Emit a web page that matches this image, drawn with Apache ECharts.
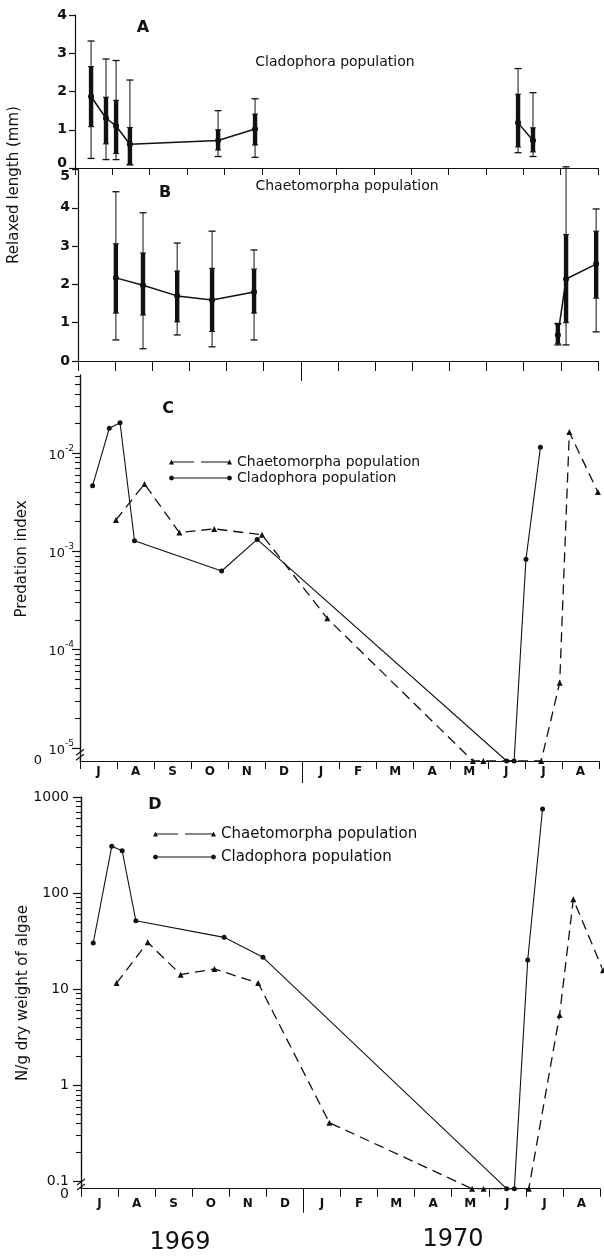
<!DOCTYPE html>
<html><head><meta charset="utf-8">
<script src="https://cdn.jsdelivr.net/npm/echarts@6/dist/echarts.min.js"></script>
<style>html,body{margin:0;padding:0;background:#fff}#c{width:604px;height:1258px}</style>
</head><body><div id="c"></div>
<script>
// ---------- data (x = months since 1 July 1969) ----------
const months = ['J','A','S','O','N','D','J','F','M','A','M','J','J','A'];

// Panel A: Cladophora population, relaxed length (mm)
const aX    = [0.43, 0.83, 1.10, 1.47, 3.83, 4.82, 11.86, 12.26];
const aMean = [1.87, 1.30, 1.10, 0.62, 0.72, 1.02, 1.18, 0.72];
const aSdLo = [1.08, 0.63, 0.38, 0.10, 0.47, 0.60, 0.55, 0.42];
const aSdHi = [2.65, 1.85, 1.77, 1.06, 1.00, 1.41, 1.93, 1.05];
const aRgLo = [0.25, 0.22, 0.22, 0.08, 0.30, 0.28, 0.40, 0.30];
const aRgHi = [3.32, 2.85, 2.81, 2.30, 1.50, 1.81, 2.60, 1.97];
const aSeg  = [0, 0, 0, 0, 0, 0, 1, 1];

// Panel B: Chaetomorpha population, relaxed length (mm)
const bX    = [1.02, 1.75, 2.67, 3.61, 4.74, 12.92, 13.14, 13.95];
const bMean = [2.17, 1.98, 1.70, 1.59, 1.80, 0.68, 2.14, 2.53];
const bSdLo = [1.25, 1.20, 1.02, 0.77, 1.25, 0.45, 1.00, 1.64];
const bSdHi = [3.06, 2.82, 2.35, 2.42, 2.40, 0.95, 3.30, 3.39];
const bRgLo = [0.55, 0.32, 0.68, 0.37, 0.55, 0.42, 0.42, 0.76];
const bRgHi = [4.42, 3.87, 3.08, 3.39, 2.90, 0.98, 5.07, 3.97];
const bSeg  = [0, 0, 0, 0, 0, 1, 1, 1];

// Panel C: predation index
const cCladX = [0.34, 0.79, 1.08, 1.47, 3.82, 4.78, 11.51, 11.71, 12.03, 12.42];
const cCladY = [4.65e-3, 1.78e-2, 2.03e-2, 1.28e-3, 6.3e-4, 1.32e-3, 0, 0, 8.3e-4, 1.14e-2];
const cChaeX = [0.97, 1.74, 2.68, 3.62, 4.91, 6.67, 10.60, 10.88, 12.44, 12.94, 13.20, 13.97];
const cChaeY = [2.08e-3, 4.84e-3, 1.55e-3, 1.69e-3, 1.47e-3, 2.08e-4, 0, 0, 0, 4.6e-5, 1.63e-2, 4.0e-3];

// Panel D: N/g dry weight of algae
const dCladX = [0.33, 0.83, 1.11, 1.48, 3.86, 4.91, 11.48, 11.69, 12.05, 12.45];
const dCladY = [30.3, 307, 276, 51.7, 34.7, 21.5, 0, 0, 20.2, 750];
const dChaeX = [0.96, 1.80, 2.69, 3.60, 4.78, 6.70, 10.55, 10.86, 12.08, 12.91, 13.28, 14.08];
const dChaeY = [11.6, 30.8, 14.2, 16.3, 11.6, 0.41, 0, 0, 0, 5.4, 86.3, 15.8];

// tick labels
const cLogTicks = [-5, -4, -3, -2];
const dLogTicks = [-1, 0, 1, 2, 3];
const dLogLabels = ['0.1', '1', '10', '100', '1000'];
const years = ['1969', '1970'];

// ---------- chart ----------
const FONT = 'DejaVu Sans';
const INK = '#111';
const ZC = -5.133, MAXC = -1.207;   // log10 level standing for 0, top of panel C
const ZD = -1.074, MAXD = 3;        // same for panel D
const lg = (v, z) => v > 0 ? Math.log10(v) : z;

function minorTicks(n0, n1, max) {
  const out = [];
  for (let n = n0; n <= n1; n++) for (let k = 2; k <= 9; k++) {
    const v = n + Math.log10(k); if (v <= max + 1e-9) out.push(v);
  }
  return out;
}

const grids = [
  {left: 75, top: 15, width: 523, height: 153},
  {left: 78, top: 169.5, width: 520, height: 191.5},
  {left: 80, top: 375, width: 519, height: 386},
  {left: 81, top: 797, width: 519, height: 391.7}
];

function catAxis(g, showLabel, tickLen, margin) {
  return {type: 'category', gridIndex: g, position: 'bottom', data: months, boundaryGap: true,
    axisLine: {show: true, onZero: false, lineStyle: {color: INK, width: 1.2}},
    axisTick: {show: true, interval: 0, length: tickLen, lineStyle: {color: INK, width: 1}},
    axisLabel: {show: showLabel, interval: 0, margin: margin, color: INK, fontFamily: FONT, fontSize: 12, fontWeight: 'bold'},
    splitLine: {show: false}};
}
function valXAxis(g, longTick) {
  return {type: 'value', gridIndex: g, position: 'bottom', min: 0, max: 14,
    axisLine: {show: false, onZero: false}, axisLabel: {show: false}, splitLine: {show: false},
    axisTick: longTick ? {show: true, customValues: [6], length: longTick, lineStyle: {color: INK, width: 1}} : {show: false}};
}
function linY(g, max, fmt, rich) {
  return {type: 'value', gridIndex: g, position: 'left', min: 0, max: max, interval: 1,
    axisLine: {show: true, onZero: false, lineStyle: {color: INK, width: 1.2}},
    axisTick: {show: true, length: 6, lineStyle: {color: INK, width: 1.2}},
    axisLabel: {color: INK, fontFamily: FONT, fontSize: 14, fontWeight: 'bold', margin: 8,
      showMinLabel: true, showMaxLabel: true, formatter: fmt, rich: rich},
    splitLine: {show: false}};
}
// log axis (log10 units): line, decade labels and minor ticks at 2..9
function logY(g, min, max, tickVals, labelVals, fmt, margin, rich) {
  return {type: 'value', gridIndex: g, position: 'left', min: min, max: max,
    axisLine: {show: true, onZero: false, lineStyle: {color: INK, width: 1.2}}, splitLine: {show: false},
    axisTick: {show: true, customValues: tickVals, length: 5, lineStyle: {color: INK, width: 1.1}},
    axisLabel: {customValues: labelVals, showMinLabel: true, showMaxLabel: true, hideOverlap: false,
      margin: margin, color: INK, fontFamily: FONT, fontSize: 14, formatter: fmt, rich: rich}};
}
// companion axis: long ticks at whole decades + the "0" label
function majorY(g, min, max, vals, zero, margin, rich) {
  return {type: 'value', gridIndex: g, position: 'left', min: min, max: max,
    axisLine: {show: true, onZero: false, lineStyle: {color: INK, width: 1.2}},
    splitLine: {show: false},
    axisLabel: {customValues: [zero], showMinLabel: true, margin: margin, color: INK, fontFamily: FONT, fontSize: 14,
      formatter: () => '{z|0}', rich: rich},
    axisTick: {show: true, customValues: vals, length: 8, lineStyle: {color: INK, width: 1.2}}};
}

function errSeries(xi, yi, X, M, sl, sh, rl, rh) {
  return {type: 'custom', xAxisIndex: xi, yAxisIndex: yi, clip: false, z: 3, silent: true,
    data: X.map((x, i) => [x, M[i], sl[i], sh[i], rl[i], rh[i]]),
    encode: {x: 0, y: [1, 2, 3, 4, 5]},
    renderItem: (p, api) => {
      const x = api.value(0);
      const top = api.coord([x, api.value(5)]), bot = api.coord([x, api.value(4)]);
      const st = api.coord([x, api.value(3)]), sb = api.coord([x, api.value(2)]);
      const cx = top[0], c = 3.5;
      const ls = {stroke: INK, lineWidth: 1};
      return {type: 'group', children: [
        {type: 'line', shape: {x1: cx, y1: top[1], x2: cx, y2: bot[1]}, style: ls},
        {type: 'line', shape: {x1: cx - c, y1: top[1], x2: cx + c, y2: top[1]}, style: {stroke: INK, lineWidth: 1.3}},
        {type: 'line', shape: {x1: cx - c, y1: bot[1], x2: cx + c, y2: bot[1]}, style: {stroke: INK, lineWidth: 1.3}},
        {type: 'rect', shape: {x: cx - 2.2, y: st[1], width: 4.4, height: sb[1] - st[1]}, style: {fill: INK}},
        {type: 'line', shape: {x1: cx - 3, y1: st[1], x2: cx + 3, y2: st[1]}, style: ls},
        {type: 'line', shape: {x1: cx - 3, y1: sb[1], x2: cx + 3, y2: sb[1]}, style: ls}
      ]};
    }};
}
function meanLines(xi, yi, X, M, seg) {
  const groups = {};
  X.forEach((x, i) => { (groups[seg[i]] = groups[seg[i]] || []).push([x, M[i]]); });
  return Object.keys(groups).map(k => ({type: 'line', xAxisIndex: xi, yAxisIndex: yi, data: groups[k],
    symbol: 'circle', symbolSize: 6, clip: false, z: 4, silent: true,
    itemStyle: {color: INK}, lineStyle: {color: INK, width: 1.5}}));
}
function popLine(name, xi, yi, X, Y, z, dashed) {
  return {type: 'line', name: name, xAxisIndex: xi, yAxisIndex: yi, clip: false, silent: true,
    data: X.map((x, i) => [x, lg(Y[i], z)]),
    symbol: dashed ? 'triangle' : 'circle', symbolSize: dashed ? 6 : 5,
    itemStyle: {color: INK}, color: INK,
    lineStyle: {color: INK, width: dashed ? 1.3 : 1.1, type: dashed ? [10, 6] : 'solid'}};
}

const oct = (cx, cy, r) => { let s = ''; for (let i = 0; i < 8; i++) { const a = i * Math.PI / 4;
  s += (i ? 'L' : 'M') + (cx + r * Math.cos(a)).toFixed(2) + ',' + (cy + r * Math.sin(a)).toFixed(2); } return s + 'Z'; };
const iconChae = 'path://M0,5L2.5,0L5,5Z M3,2H25V3H3Z M32,2H60V3H32Z M58,5L60.5,0L63,5Z';
const iconClad = 'path://' + oct(2.5, 2.5, 2.5) + ' M2.5,2H60.5V3H2.5Z ' + oct(60.5, 2.5, 2.5);

const CHAE = 'Chaetomorpha population', CLAD = 'Cladophora population';
function legendAt(left, top, fs, gap) {
  return {orient: 'vertical', left: left, top: top, itemWidth: 63, itemHeight: 5, itemGap: gap,
    selectedMode: false, itemStyle: {borderWidth: 0},
    textStyle: {color: INK, fontFamily: FONT, fontSize: fs, lineHeight: 16},
    data: [{name: CHAE, icon: iconChae}, {name: CLAD, icon: iconClad}]};
}

const chart = echarts.init(document.getElementById('c'));
const richC = {
  b: {fontFamily: FONT, fontSize: 13, color: INK, lineHeight: 18, verticalAlign: 'bottom'},
  s: {fontFamily: FONT, fontSize: 9, color: INK, lineHeight: 18, verticalAlign: 'top'}
};

chart.setOption({
  backgroundColor: '#fff',
  animation: false,
  grid: grids,
  legend: [legendAt(164, 449, 14, 0), legendAt(148, 821, 15, 7)],
  xAxis: [
    catAxis(0, false, 7, 4), valXAxis(0, 0),
    catAxis(1, false, 10, 4), valXAxis(1, 20),
    catAxis(2, true, 8, 5), valXAxis(2, 22),
    catAxis(3, true, 8, 9), valXAxis(3, 24)
  ],
  yAxis: [
    linY(0, 4, v => v === 0 ? '{u|0}' : String(v),
      {u: {fontFamily: FONT, fontSize: 14, fontWeight: 'bold', color: INK, padding: [0, 0, 9, 0]}}),
    linY(1, 5, v => v === 5 ? '{d|5}' : String(v),
      {d: {fontFamily: FONT, fontSize: 14, fontWeight: 'bold', color: INK, padding: [14, 0, 0, 0]}}),
    logY(2, ZC, MAXC, minorTicks(-5, -2, MAXC), cLogTicks,
      v => '{b|10}{s|-' + Math.abs(Math.round(v)) + '}', 6, richC),
    majorY(2, ZC, MAXC, cLogTicks, ZC, 38, {z: {fontFamily: FONT, fontSize: 13, color: INK}}),
    logY(3, ZD, MAXD, minorTicks(-1, 2, MAXD), dLogTicks,
      v => dLogLabels[dLogTicks.indexOf(Math.round(v))], 12, {}),
    majorY(3, ZD, MAXD, dLogTicks, ZD, 12, {z: {fontFamily: FONT, fontSize: 14, color: INK, padding: [12, 0, 0, 0]}})
  ],
  series: [].concat(
    errSeries(1, 0, aX, aMean, aSdLo, aSdHi, aRgLo, aRgHi),
    meanLines(1, 0, aX, aMean, aSeg),
    errSeries(3, 1, bX, bMean, bSdLo, bSdHi, bRgLo, bRgHi),
    meanLines(3, 1, bX, bMean, bSeg),
    popLine(CHAE, 5, 2, cChaeX, cChaeY, ZC, true),
    popLine(CLAD, 5, 2, cCladX, cCladY, ZC, false),
    popLine(CHAE, 7, 4, dChaeX, dChaeY, ZD, true),
    popLine(CLAD, 7, 4, dCladX, dCladY, ZD, false)
  )
});

// decorations: titles, axis names, years, axis-break marks
const T = (text, x, y, o) => Object.assign({type: 'text', x: x, y: y, silent: true,
  style: Object.assign({text: text, fill: INK, fontFamily: FONT, fontSize: 14, align: 'center', verticalAlign: 'middle'}, (o && o.style) || {})},
  o && o.rotation ? {rotation: o.rotation} : {});
const bold = {style: {fontSize: 16, fontWeight: 'bold'}};
const brk = (xi, yi, v) => {
  const p = chart.convertToPixel({xAxisIndex: xi, yAxisIndex: yi}, [0, v]);
  return [-2.5, 2.5].map(d => ({type: 'line', silent: true,
    shape: {x1: p[0] - 4, y1: p[1] + d + 3, x2: p[0] + 4, y2: p[1] + d - 3}, style: {stroke: INK, lineWidth: 1.1}}));
};
chart.setOption({graphic: [
  T('A', 143, 28, bold), T('B', 165, 193, bold), T('C', 168, 409, bold), T('D', 155, 805, bold),
  T('Cladophora population', 335, 62), T('Chaetomorpha population', 347, 186),
  T('Relaxed length (mm)', 14, 185, {rotation: Math.PI / 2, style: {fontSize: 15}}),
  T('Predation index', 22, 559, {rotation: Math.PI / 2, style: {fontSize: 15}}),
  T('N/g dry weight of algae', 23, 993, {rotation: Math.PI / 2, style: {fontSize: 15}}),
  T(years[0], 180, 1243, {style: {fontSize: 24}}), T(years[1], 453, 1240, {style: {fontSize: 24}})
].concat(brk(5, 2, -5.07), brk(7, 4, -1.03))});
</script></body></html>
